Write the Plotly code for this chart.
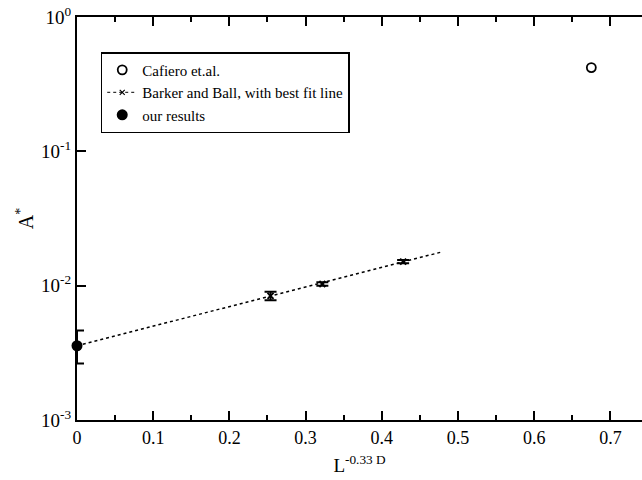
import plotly.graph_objects as go

# Data
cafiero_x = [0.675]
cafiero_y = [0.42]

barker_x = [0.254, 0.322, 0.428]
barker_y = [0.0084, 0.0103, 0.0151]
barker_err_plus = [0.0006, 0.0003, 0.0004]
barker_err_minus = [0.0006, 0.0003, 0.0004]

fit_x = [0.0, 0.48]
fit_y = [0.00357, 0.0179]

ours_x = [0.0]
ours_y = [0.00357]
ours_err_plus = [0.00106]
ours_err_minus = [0.00094]

y_tickvals = [0.001, 0.01, 0.1, 1]
y_ticktext = ["10<sup>-3</sup>", "10<sup>-2</sup>", "10<sup>-1</sup>", "10<sup>0</sup>"]

font_family = "Liberation Serif"

fig = go.Figure()

fig.add_trace(go.Scatter(
    x=cafiero_x, y=cafiero_y, mode="markers", name="Cafiero et.al.",
    marker=dict(symbol="circle-open", size=9, color="black", line=dict(width=1.8)),
))

fig.add_trace(go.Scatter(
    x=fit_x, y=fit_y, mode="lines", showlegend=False,
    line=dict(color="black", width=1.5, dash="dot"),
))

fig.add_trace(go.Scatter(
    x=barker_x, y=barker_y, mode="markers", showlegend=False,
    marker=dict(symbol="x-thin-open", size=6, color="black", line=dict(width=2, color="black")),
    error_y=dict(type="data", symmetric=False, array=barker_err_plus, arrayminus=barker_err_minus,
                 color="black", thickness=2, width=6),
))

# legend entry for Barker and Ball
fig.add_trace(go.Scatter(
    x=[None], y=[None], mode="lines+markers", name="Barker and Ball, with best fit line",
    line=dict(color="black", width=1, dash="dot"),
    marker=dict(symbol="x-thin-open", size=5, color="black", line=dict(width=1.2, color="black")),
))

fig.add_trace(go.Scatter(
    x=ours_x, y=ours_y, mode="markers", name="our results",
    marker=dict(symbol="circle", size=11, color="black"),
    error_y=dict(type="data", symmetric=False, array=ours_err_plus, arrayminus=ours_err_minus,
                 color="black", thickness=2, width=7),
    cliponaxis=False,
))

fig.update_layout(
    width=642, height=480,
    margin=dict(l=77, r=0, t=17, b=60),
    paper_bgcolor="white", plot_bgcolor="white",
    font=dict(family=font_family, size=18, color="black"),
    showlegend=True,
    legend=dict(
        x=0.042, y=0.913, xanchor="left", yanchor="top",
        bordercolor="black", borderwidth=1.5, bgcolor="white",
        font=dict(family=font_family, size=15, color="black"),
        tracegroupgap=0, itemwidth=30,
    ),
)

fig.update_xaxes(
    range=[0, 0.7415], showgrid=False, zeroline=False,
    showline=True, linecolor="black", linewidth=2, mirror="ticks",
    ticks="inside", ticklen=9, tickwidth=2, tickcolor="black",
    dtick=0.1, tick0=0,
    minor=dict(ticks="inside", ticklen=5, tickwidth=2, tickcolor="black", dtick=0.05),
    title=dict(text="L<sup>-0.33 D</sup>", font=dict(family=font_family, size=19), standoff=12),
    tickfont=dict(family=font_family, size=18),
)

fig.update_yaxes(
    type="log", range=[-3, 0], showgrid=False, zeroline=False,
    showline=True, linecolor="black", linewidth=2, mirror=False,
    ticks="inside", ticklen=9, tickwidth=2, tickcolor="black",
    tickvals=y_tickvals, ticktext=y_ticktext,
    title=dict(text="A<sup>*</sup>", font=dict(family=font_family, size=20), standoff=2),
    tickfont=dict(family=font_family, size=19),
)

fig.write_html("out.html")
